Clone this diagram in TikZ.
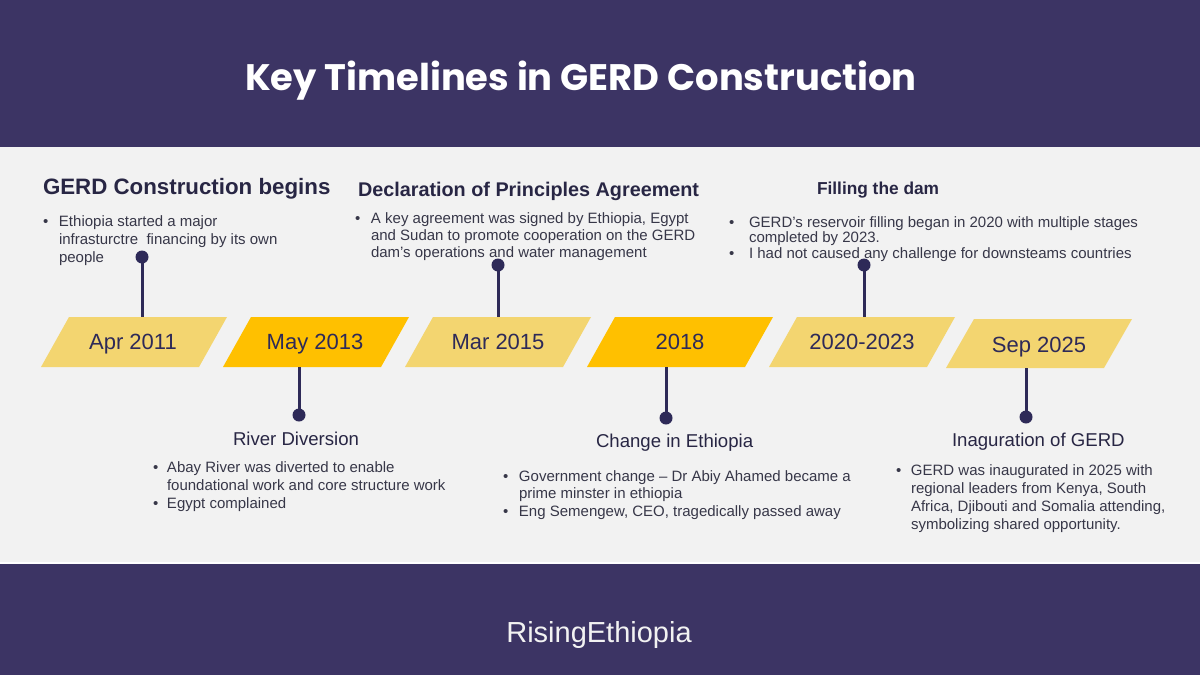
\documentclass[tikz,border=0pt]{standalone}
\usepackage{fontspec}
\setmainfont{Liberation Sans}
\newfontfamily\titlefont{Poppins}
\definecolor{band}{RGB}{60,52,100}
\definecolor{panel}{RGB}{242,242,242}
\definecolor{ylight}{RGB}{243,213,112}
\definecolor{ydark}{RGB}{255,192,0}
\definecolor{navy}{RGB}{46,42,88}
\definecolor{headc}{RGB}{40,38,68}
\definecolor{bodyc}{RGB}{55,55,72}
\newcommand\bul[1]{\makebox[#1][l]{\textbullet}}
\newcommand\ind[1]{\hspace*{#1}}
\tikzset{
  x=1pt,y=-1pt,
  txt/.style={inner sep=0pt,outer sep=0pt,anchor=base west,text=bodyc},
  head/.style={inner sep=0pt,outer sep=0pt,anchor=base west,text=headc,font=\bfseries},
  sub/.style={inner sep=0pt,outer sep=0pt,anchor=base west,text=headc,font=\fontsize{18.6}{22}\selectfont},
  datelbl/.style={inner sep=0pt,outer sep=0pt,anchor=base,text=navy,font=\fontsize{22}{26}\selectfont},
  lightpar/.style={fill=ylight,draw=none},
  darkpar/.style={fill=ydark,draw=none},
  dot/.style={circle,fill=navy,inner sep=0pt,minimum size=13pt},
  stem/.style={draw=navy,line width=3pt}
}
\begin{document}
\begin{tikzpicture}
\useasboundingbox (0,0) rectangle (1200,675);
% bands
\fill[panel] (0,0) rectangle (1200,675);
\fill[band] (0,0) rectangle (1200,147);
\fill[band] (0,564) rectangle (1200,675);
\fill[white] (0,562) rectangle (1200,564);
% title & footer
\node[inner sep=0pt,anchor=base,text=white,font=\titlefont\bfseries\fontsize{36.9}{40}\selectfont] (title) at (581,90) {Key Timelines in GERD Construction};
\node[inner sep=0pt,anchor=base,text=panel,font=\fontsize{29}{32}\selectfont] (footer) at (599,642) {RisingEthiopia};
% parallelograms
\fill[lightpar] (69,317) -- (227,317) -- (199,367) -- (41,367) -- cycle;
\fill[darkpar] (251,317) -- (409,317) -- (381,367) -- (223,367) -- cycle;
\fill[lightpar] (433,317) -- (591,317) -- (563,367) -- (405,367) -- cycle;
\fill[darkpar] (615,317) -- (773,317) -- (745,367) -- (587,367) -- cycle;
\fill[lightpar] (797,317) -- (955,317) -- (927,367) -- (769,367) -- cycle;
\fill[lightpar] (974,319) -- (1132,319) -- (1104,368) -- (946,368) -- cycle;
% date labels
\node[datelbl] (d1) at (133,349) {Apr 2011};
\node[datelbl] (d2) at (315,349) {May 2013};
\node[datelbl] (d3) at (498,349) {Mar 2015};
\node[datelbl] (d4) at (680,349) {2018};
\node[datelbl] (d5) at (862,349) {2020-2023};
\node[datelbl] (d6) at (1039,352) {Sep 2025};
% stems
\coordinate (s1) at (142,317);
\coordinate (s2) at (299,367);
\coordinate (s3) at (498,317);
\coordinate (s4) at (666,367);
\coordinate (s5) at (864,317);
\coordinate (s6) at (1026,368);
\node[dot] (p1) at (142,257) {};
\node[dot] (p2) at (299,415) {};
\node[dot] (p3) at (498,265) {};
\node[dot] (p4) at (666,418) {};
\node[dot] (p5) at (864,265) {};
\node[dot] (p6) at (1026,417) {};
\draw[stem] (p1.center) -- (s1);
\draw[stem] (s2) -- (p2.center);
\draw[stem] (p3.center) -- (s3);
\draw[stem] (s4) -- (p4.center);
\draw[stem] (p5.center) -- (s5);
\draw[stem] (s6) -- (p6.center);
% headings top
\node[head,font=\bfseries\fontsize{22.3}{26}\selectfont] (h1) at (43,194) {GERD Construction begins};
\node[head,font=\bfseries\fontsize{19.8}{24}\selectfont] (h3) at (358,196) {Declaration of Principles Agreement};
\node[head,font=\bfseries\fontsize{17.3}{21}\selectfont] (h5) at (817,194) {Filling the dam};
% headings bottom
\node[sub] (h2) at (233,445) {River Diversion};
\node[sub] (h4) at (596,447) {Change in Ethiopia};
\node[sub] (h6) at (952,446) {Inaguration of GERD};
% bullet texts
\node[txt] (b1) at (43,226) {\parbox[t]{400pt}{\fontsize{15}{18}\selectfont
\bul{16pt}Ethiopia started a major\\
\ind{16pt}infrasturctre\ \ financing by its own\\
\ind{16pt}people}};
\node[txt] (b3) at (355,223) {\parbox[t]{400pt}{\fontsize{15}{17}\selectfont
\bul{16pt}A key agreement was signed by Ethiopia, Egypt\\
\ind{16pt}and Sudan to promote cooperation on the GERD\\
\ind{16pt}dam's operations and water management}};
\node[txt] (b5) at (729,227) {\parbox[t]{460pt}{\fontsize{15}{15.5}\selectfont
\bul{20pt}GERD’s reservoir filling began in 2020 with multiple stages\\
\ind{20pt}completed by 2023.\\
\bul{20pt}I had not caused any challenge for downsteams countries}};
\node[txt] (b2) at (153,472) {\parbox[t]{400pt}{\fontsize{15}{18}\selectfont
\bul{14pt}Abay River was diverted to enable\\
\ind{14pt}foundational work and core structure work\\
\bul{14pt}Egypt complained}};
\node[txt] (b4) at (503,481) {\parbox[t]{400pt}{\fontsize{15}{17.5}\selectfont
\bul{16pt}Government change -- Dr Abiy Ahamed became a\\
\ind{16pt}prime minster in ethiopia\\
\bul{16pt}Eng Semengew, CEO, tragedically passed away}};
\node[txt] (b6) at (896,475) {\parbox[t]{300pt}{\fontsize{15}{18}\selectfont
\bul{15pt}GERD was inaugurated in 2025 with\\
\ind{15pt}regional leaders from Kenya, South\\
\ind{15pt}Africa, Djibouti and Somalia attending,\\
\ind{15pt}symbolizing shared opportunity.}};
\end{tikzpicture}
\end{document}
